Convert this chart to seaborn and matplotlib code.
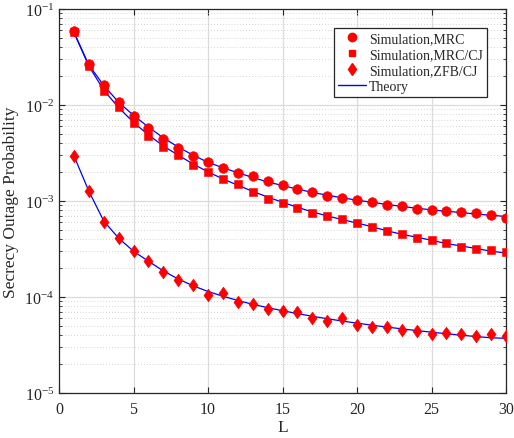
import numpy as np
import pandas as pd
import seaborn as sns
import matplotlib
matplotlib.use("Agg")
import matplotlib.pyplot as plt
from matplotlib.lines import Line2D
from matplotlib.path import Path
from matplotlib.ticker import LogLocator, FixedLocator

L = list(range(1, 31))

sim_mrc = [0.0586, 0.0267, 0.0162, 0.0107, 0.00774, 0.00576, 0.00442, 0.00354, 0.00294, 0.00253,
           0.00221, 0.00197, 0.00184, 0.00160, 0.00148, 0.00132, 0.00123, 0.00112, 0.00107, 0.00102,
           0.00097, 0.000909, 0.000881, 0.000832, 0.000806, 0.000793, 0.000762, 0.000750, 0.000715, 0.000670]
sim_mrc_cj = [0.0570, 0.0257, 0.0141, 0.00946, 0.00649, 0.00479, 0.00368, 0.00301, 0.00239, 0.00199,
              0.00168, 0.00149, 0.00125, 0.00104, 0.000953, 0.000851, 0.000744, 0.000692, 0.000654, 0.000590,
              0.000540, 0.000483, 0.000450, 0.000415, 0.000396, 0.000362, 0.000329, 0.000313, 0.000312, 0.000291]
sim_zfb_cj = [0.00296, 0.00126, 0.000600, 0.000415, 0.000299, 0.000237, 0.000182, 0.000150, 0.000134, 0.000106,
              0.000110, 0.0000888, 0.0000839, 0.0000750, 0.0000715, 0.0000692, 0.0000600, 0.0000558, 0.0000600, 0.0000514,
              0.0000491, 0.0000483, 0.0000453, 0.0000446, 0.0000415, 0.0000422, 0.0000408, 0.0000389, 0.0000415, 0.0000393]

th_mrc = [0.0575, 0.0262, 0.0160, 0.0107, 0.0078, 0.0059, 0.00455, 0.00365, 0.00300, 0.00253,
          0.00222, 0.00197, 0.00176, 0.00158, 0.00145, 0.00133, 0.00123, 0.00115, 0.00108, 0.00102,
          0.00097, 0.00092, 0.00088, 0.00084, 0.00081, 0.00078, 0.00076, 0.00073, 0.00071, 0.00069]
th_mrc_cj = [0.0570, 0.0255, 0.0143, 0.0094, 0.0066, 0.00488, 0.00375, 0.00300, 0.00243, 0.00201,
             0.00170, 0.00146, 0.00126, 0.00110, 0.00097, 0.00086, 0.00077, 0.00070, 0.00064, 0.00059,
             0.00054, 0.00049, 0.00045, 0.00042, 0.00039, 0.00036, 0.00034, 0.00032, 0.00030, 0.000287]
th_zfb_cj = [0.00296, 0.00127, 0.00062, 0.00041, 0.000300, 0.000236, 0.000187, 0.000154, 0.000131, 0.000114,
             0.000102, 0.0000920, 0.0000840, 0.0000775, 0.0000720, 0.0000672, 0.0000630, 0.0000594, 0.0000562, 0.0000534,
             0.0000509, 0.0000486, 0.0000466, 0.0000447, 0.0000430, 0.0000414, 0.0000400, 0.0000387, 0.0000376, 0.0000371]

labels = ["Simulation,MRC", "Simulation,MRC/CJ", "Simulation,ZFB/CJ", "Theory"]

sns.set_style("ticks")
plt.rcParams['font.family'] = ['Liberation Serif', 'DejaVu Serif']
plt.rcParams['mathtext.fontset'] = 'stix'

fig = plt.figure(figsize=(5.14, 4.39), dpi=100)
ax = fig.add_axes([59/514, 1 - 394/439, (506-59)/514, (394-10)/439])

for th in (th_mrc, th_mrc_cj, th_zfb_cj):
    sns.lineplot(x=L, y=th, color='blue', lw=0.9, ax=ax, zorder=2)

diamond = Path([[0, -0.7], [0.5, 0], [0, 0.7], [-0.5, 0], [0, -0.7]], closed=True)

sns.scatterplot(x=L, y=sim_mrc, marker='o', s=48, color='red', edgecolor='red', linewidth=0.4, ax=ax, zorder=3)
sns.scatterplot(x=L, y=sim_mrc_cj, marker='s', s=30, color='red', edgecolor='red', linewidth=0.4, ax=ax, zorder=3)
sns.scatterplot(x=L, y=sim_zfb_cj, marker=diamond, s=85, color='red', edgecolor='red', linewidth=0.4, ax=ax, zorder=3)

ax.set_yscale('log')
ax.set_xlim(0, 30)
ax.set_ylim(1e-5, 1e-1)
ax.xaxis.set_major_locator(FixedLocator([0, 5, 10, 15, 20, 25, 30]))
ax.yaxis.set_major_locator(LogLocator(base=10, numticks=10))
ax.yaxis.set_minor_locator(LogLocator(base=10, subs=np.arange(2, 10), numticks=20))
ax.grid(True, which='major', color='#dcdcdc', lw=0.9, ls='-')
ax.grid(True, which='minor', axis='y', color='#c8c8c8', lw=0.6, ls=(0, (1, 2.5)))
ax.set_axisbelow(True)

ax.tick_params(which='both', direction='in', top=True, right=True, labelsize=11.5, colors='#262626')
ax.tick_params(which='major', length=4, width=0.8)
ax.tick_params(which='minor', length=2, width=0.6)
ax.tick_params(axis='x', pad=6)
for sp in ax.spines.values():
    sp.set_color('#262626')
    sp.set_linewidth(0.9)
    sp.set_visible(True)

ax.set_xlabel('L', fontsize=12.5, labelpad=1)
ax.set_ylabel('Secrecy Outage Probability', fontsize=12.5, labelpad=4)

handles = [
    Line2D([], [], marker='o', color='red', ls='none', markersize=6),
    Line2D([], [], marker='s', color='red', ls='none', markersize=4.5),
    Line2D([], [], marker='d', color='red', ls='none', markersize=6.5),
    Line2D([], [], color='blue', lw=1),
]
leg = ax.legend(handles, labels, loc='upper right', bbox_to_anchor=(0.957, 0.9505), fontsize=10,
                frameon=True, fancybox=False, edgecolor='#262626', framealpha=1,
                handlelength=2.0, handletextpad=0.2, borderpad=0.3, labelspacing=0.2, borderaxespad=0)
leg.get_frame().set_linewidth(0.9)

fig.savefig('out.png', dpi=100)
